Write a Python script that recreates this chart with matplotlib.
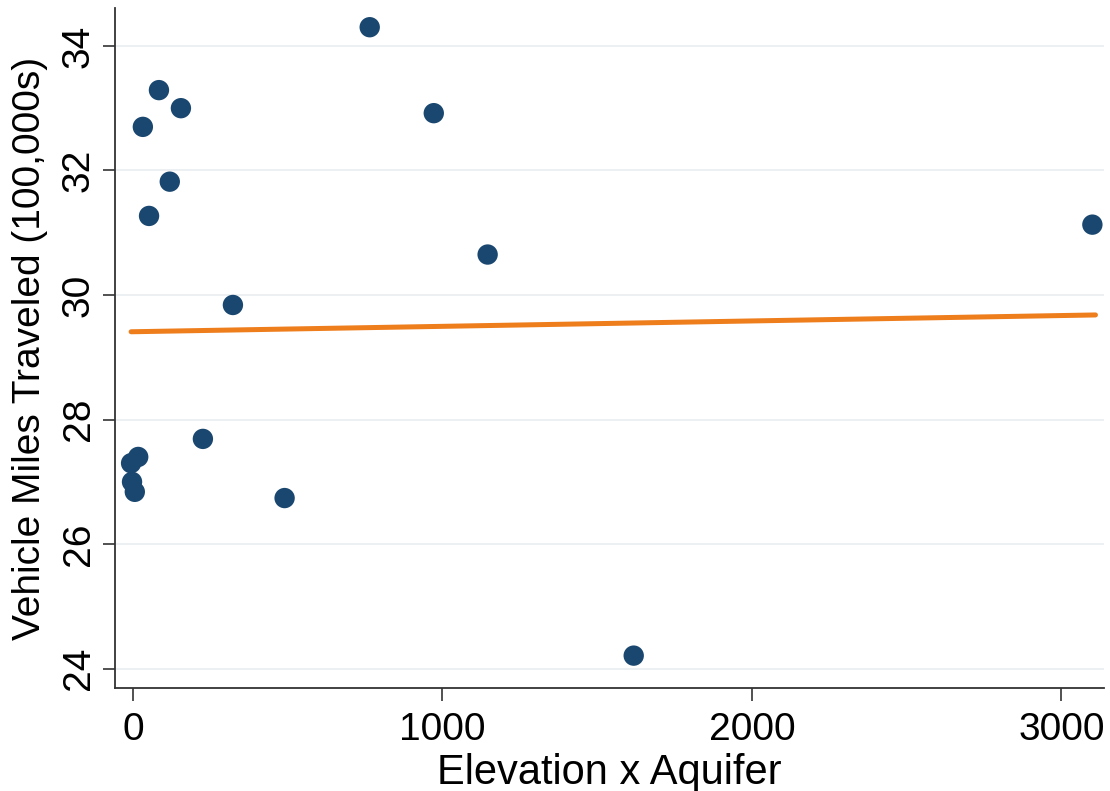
import numpy as np
import matplotlib.pyplot as plt

# points
elev_aquifer = [765, 972, 84, 155, 32, 119, 52, 1146, 3100, 323,
                226, 17, -6, -3, 6, 490, 1618]
vmt = [34.30, 32.92, 33.29, 33.00, 32.70, 31.82, 31.27, 30.65, 31.13, 29.84,
       27.69, 27.40, 27.30, 27.00, 26.84, 26.74, 24.21]

# fitted line endpoints
fit_x = [-6, 3110]
fit_y = [29.41, 29.68]

y_ticks = [24, 26, 28, 30, 32, 34]
x_ticks = [0, 1000, 2000, 3000]

plt.rcParams['font.family'] = ['Liberation Sans', 'DejaVu Sans']

fig = plt.figure(figsize=(11.1, 7.91), dpi=100)
ax = fig.add_axes([0.1036, 0.1302, 0.8914, 0.8598])

ax.grid(axis='y', color='#e9eef0', linewidth=1.2, zorder=0)
ax.plot(fit_x, fit_y, color='#ee7d1c', linewidth=3.6,
        solid_capstyle='round', zorder=2)
ax.scatter(elev_aquifer, vmt, s=215, color='#1a476f', edgecolors='none', zorder=3)

ax.set_xlim(-58, 3139)
ax.set_ylim(23.69, 34.61)
ax.set_xticks(x_ticks)
ax.set_yticks(y_ticks)
ax.tick_params(axis='both', labelsize=28, length=9, width=1.2,
               color='#333333', direction='out')
ax.tick_params(axis='x', pad=8)
ax.tick_params(axis='y', pad=4)
for lab in ax.get_yticklabels():
    lab.set_rotation(90)
    lab.set_va('center')

for s in ['top', 'right']:
    ax.spines[s].set_visible(False)
for s in ['left', 'bottom']:
    ax.spines[s].set_color('#333333')
    ax.spines[s].set_linewidth(1.3)

ax.set_xlabel('Elevation x Aquifer', fontsize=30, labelpad=4)
ax.set_ylabel('Vehicle Miles Traveled (100,000s)', fontsize=28, labelpad=9)

fig.savefig('out.png', dpi=100, facecolor='white')
